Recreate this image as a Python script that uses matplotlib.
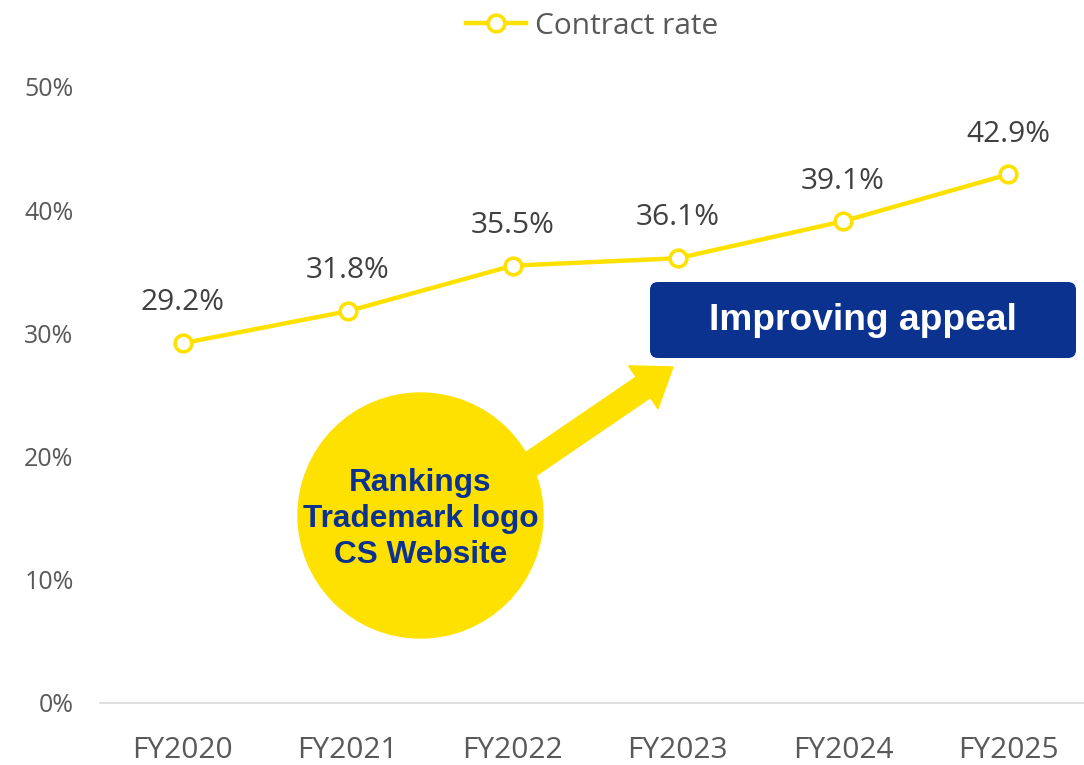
import matplotlib
matplotlib.use("Agg")
import matplotlib.pyplot as plt
from matplotlib.patches import Circle, FancyArrow, FancyBboxPatch

# data
years = ["FY2020", "FY2021", "FY2022", "FY2023", "FY2024", "FY2025"]
contract_rate = [29.2, 31.8, 35.5, 36.1, 39.1, 42.9]
y_ticks = [0, 10, 20, 30, 40, 50]

yellow = "#FFE100"
navy = "#0C3290"
grey = "#595959"

plt.rcParams["font.family"] = ["Open Sans", "DejaVu Sans"]

fig = plt.figure(figsize=(10.84, 7.65), dpi=100)
ax = fig.add_axes([100 / 1084, 62 / 765, 984 / 1084, 616 / 765])

x = list(range(len(years)))
ax.plot(x, contract_rate, color=yellow, lw=3.2, marker="o", ms=12,
        mfc="white", mec=yellow, mew=2.6, label="Contract rate", zorder=3)

for xi, v in zip(x, contract_rate):
    ax.annotate(f"{v:.1f}%", (xi, v), xytext=(0, 29), textcoords="offset points",
                ha="center", va="center", fontsize=21.5, color="#404040")

ax.set_xlim(-0.5, 5.46)
ax.set_ylim(0, 50)
ax.set_xticks(x)
ax.set_xticklabels(years, fontsize=21.5, color=grey)
ax.set_yticks(y_ticks)
ax.set_yticklabels([f"{t}%" for t in y_ticks], fontsize=18, color=grey)
ax.tick_params(axis="x", length=0, pad=24)
ax.tick_params(axis="y", length=0, pad=19)
for s in ["top", "right", "left"]:
    ax.spines[s].set_visible(False)
ax.spines["bottom"].set_color("#D9D9D9")
ax.spines["bottom"].set_linewidth(1.2)

ax.legend(loc="upper center", bbox_to_anchor=(0.5, 1.166), frameon=False,
          fontsize=21.5, labelcolor=grey, handlelength=2.0, handletextpad=0.3)

# callouts drawn in inches (px / 100), y measured from bottom
tr = fig.dpi_scale_trans
arrow = FancyArrow(4.85, 2.696, 1.88, 1.284,
                   width=0.25, head_width=0.52, head_length=0.36,
                   length_includes_head=True, color=yellow, transform=tr,
                   zorder=5)
fig.patches.append(arrow)
circ = Circle((4.205, 7.65 - 5.155), 1.225, color=yellow, transform=tr, zorder=6)
fig.patches.append(circ)
fig.text(4.205 / 10.84, (7.65 - 5.19) / 7.65, "Rankings\nTrademark logo\nCS Website",
         ha="center", va="center", fontsize=22.8, fontweight="bold", color=navy,
         family="Liberation Sans", linespacing=1.28, zorder=7)

box = FancyBboxPatch((6.50, 7.65 - 3.58), 4.26, 0.76,
                     boxstyle="round,pad=0,rounding_size=0.08",
                     fc=navy, ec="none", transform=tr, zorder=5)
fig.patches.append(box)
fig.text((6.50 + 2.13) / 10.84, (7.65 - 3.21) / 7.65, "Improving appeal",
         ha="center", va="center", fontsize=26.7, fontweight="bold",
         color="white", family="Liberation Sans", zorder=7)

fig.savefig("out.png", dpi=100)
